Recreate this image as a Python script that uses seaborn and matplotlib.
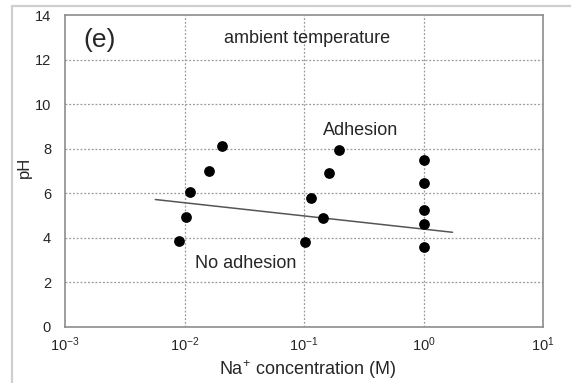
import matplotlib
matplotlib.use("Agg")
import matplotlib.pyplot as plt
from matplotlib.patches import Rectangle
import matplotlib.ticker as mticker
import numpy as np
import pandas as pd
import seaborn as sns

# Na+ concentration (M) and pH of each measured sample
na_conc = [0.0090, 0.0103, 0.0111, 0.0160, 0.0206,
           0.102, 0.114, 0.143, 0.163, 0.197,
           1.0, 1.0, 1.0, 1.0, 1.0]
ph = [3.85, 4.95, 6.08, 7.02, 8.12,
      3.82, 5.78, 4.88, 6.90, 7.95,
      7.48, 6.45, 5.25, 4.63, 3.58]

# adhesion boundary line
boundary_conc = [0.0057, 1.75]
boundary_ph = [5.72, 4.25]

y_ticks = [0, 2, 4, 6, 8, 10, 12, 14]
x_ticks = [1e-3, 1e-2, 1e-1, 1e0, 1e1]

sns.set_theme(style="white")
plt.rcParams["font.family"] = ["Liberation Sans", "DejaVu Sans"]
plt.rcParams["mathtext.fontset"] = "custom"
plt.rcParams["mathtext.rm"] = "Liberation Sans"
plt.rcParams["mathtext.it"] = "Liberation Sans:italic"
plt.rcParams["mathtext.default"] = "regular"

text_color = "#262626"
W, H = 571, 383
fig = plt.figure(figsize=(W / 100, H / 100), dpi=100)
ax = fig.add_axes([65 / W, 56 / H, 478 / W, 312 / H])

# light outer frame
fig.patches.append(Rectangle((12 / W, -0.1), 1.2, (H - 6) / H + 0.1,
                             transform=fig.transFigure, fill=False,
                             edgecolor="#cfcfcf", linewidth=1.6, zorder=0))

df = pd.DataFrame({"conc": na_conc, "ph": ph})
line_df = pd.DataFrame({"conc": boundary_conc, "ph": boundary_ph})

sns.lineplot(data=line_df, x="conc", y="ph", ax=ax, color="#555555",
             linewidth=1.1, zorder=3)
sns.scatterplot(data=df, x="conc", y="ph", ax=ax, color="black", s=60,
                edgecolor="black", linewidth=0, zorder=4)

ax.set_xscale("log")
ax.set_xlim(1e-3, 1e1)
ax.set_ylim(0, 14)
ax.set_xticks(x_ticks)
ax.set_yticks(y_ticks)
ax.xaxis.set_minor_locator(mticker.NullLocator())
ax.set_xticklabels([r"$10^{%d}$" % int(np.log10(v)) for v in x_ticks])
ax.set_yticklabels([str(v) for v in y_ticks])
ax.tick_params(axis="both", length=0, labelsize=10.5, colors=text_color)
ax.tick_params(axis="y", pad=10)
ax.tick_params(axis="x", pad=6)

# dotted grid at inner ticks
for v in y_ticks[1:-1]:
    ax.axhline(v, color="#9a9a9a", linestyle=(0, (1.5, 1.5)), linewidth=0.9, zorder=1)
for v in x_ticks[1:-1]:
    ax.axvline(v, color="#9a9a9a", linestyle=(0, (1.5, 1.5)), linewidth=0.9, zorder=1)

for sp in ax.spines.values():
    sp.set_color("#8c8c8c")
    sp.set_linewidth(1.2)

ax.set_xlabel("")
ax.set_ylabel("")
fig.text(308 / W, 1 - 370 / H, "Na$^{+}$ concentration (M)", fontsize=13,
         color=text_color, ha="center", va="center")
fig.text(24 / W, 1 - 167 / H, "pH", fontsize=12, rotation=90,
         color=text_color, ha="center", va="center")

ax.text(0.038, 0.92, "(e)", transform=ax.transAxes, fontsize=19,
        color=text_color, va="center", ha="left")
ax.text(0.506, 0.925, "ambient temperature", transform=ax.transAxes,
        fontsize=13, color=text_color, va="center", ha="center")
ax.text(0.619, 0.631, "Adhesion", transform=ax.transAxes,
        fontsize=13, color=text_color, va="center", ha="center")
ax.text(0.377, 0.202, "No adhesion", transform=ax.transAxes,
        fontsize=13, color=text_color, va="center", ha="center")

fig.savefig("out.png", dpi=100)
